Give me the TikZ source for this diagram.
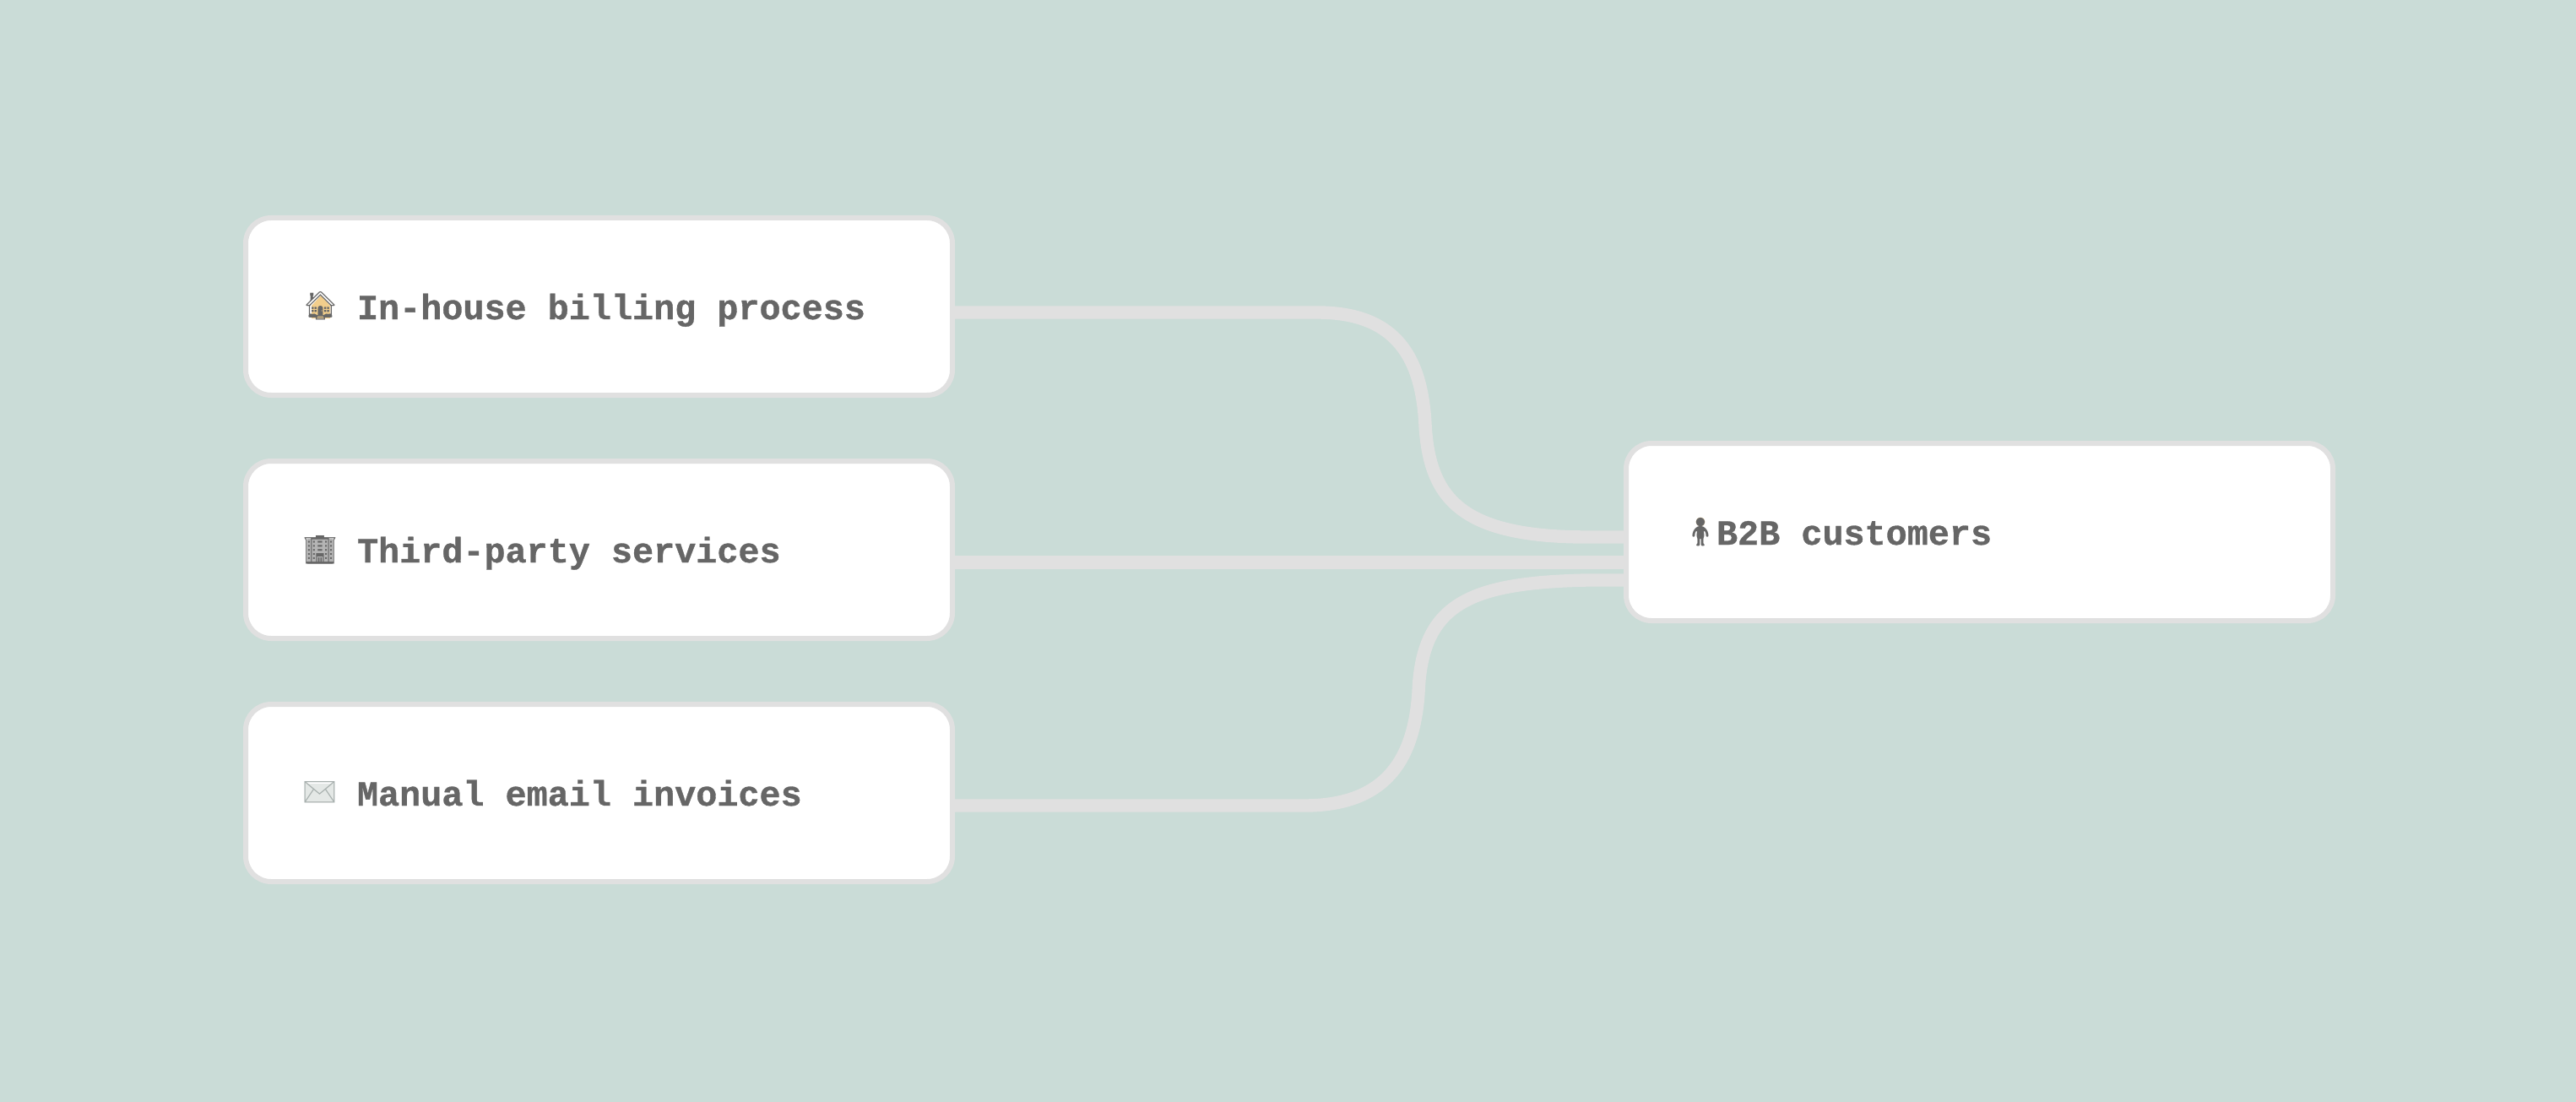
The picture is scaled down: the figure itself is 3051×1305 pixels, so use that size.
\documentclass[tikz,border=0pt]{standalone}
\usepackage{fontspec}
\usetikzlibrary{calc}
\newfontfamily\lblfont{Liberation Mono}[BoldFeatures={FakeBold=0.8}]
\newfontfamily\emofont{Noto Emoji}
\definecolor{bgc}{HTML}{CADCD7}
\definecolor{edgec}{HTML}{E0E0E0}
\definecolor{inkc}{HTML}{666666}
\definecolor{housec}{HTML}{F2CE8C}
\definecolor{officec}{HTML}{B4B4B4}
\definecolor{mailc}{HTML}{E4E8E6}
\definecolor{mailinkc}{HTML}{A8B0AE}
\definecolor{skinc}{HTML}{E8CE9C}
\tikzset{
  cardbox/.style={draw=edgec,fill=white,line width=3pt,rounded corners=15pt,minimum width=418.5pt,minimum height=105pt,inner sep=0pt,outer sep=0pt},
  wire/.style={draw=edgec,line width=7.7pt,line cap=butt},
  lbl/.style={anchor=base west,inner sep=0pt,outer sep=0pt,text=inkc,font=\lblfont\bfseries\fontsize{20.9}{25}\selectfont},
  emo/.style={inner sep=0pt,outer sep=0pt,text=inkc,font=\emofont\fontsize{16.5}{18}\selectfont}
}
\begin{document}
\begin{tikzpicture}[x=0.5pt,y=-0.5pt]
\useasboundingbox[fill=bgc] (0,0) rectangle (3051,1305);
\node[cardbox] (a) at (709.5,363) {};
\node[cardbox] (b) at (709.5,651) {};
\node[cardbox] (c) at (709.5,939) {};
\node[cardbox] (d) at (2344.5,630) {};
\coordinate (am) at (1688,503);
\coordinate (cm) at (1680,820);
\draw[wire] ($(a.east)+(0,7)$) -- (1560,370) .. controls (1655,370) and (1684,425) .. (am) .. controls (1693,590) and (1730,636) .. (1880,636) -- ($(d.west)+(0,6)$);
\draw[wire] ($(b.east)+(0,15)$) -- ($(d.west)+(0,36)$);
\draw[wire] ($(c.east)+(0,15)$) -- (1545,954) .. controls (1645,954) and (1675,895) .. (cm) .. controls (1684,715) and (1740,690) .. (1880,687) -- ($(d.west)+(0,57)$);
\node[lbl] (ta) at (423,378) {In-house billing process};
\node[lbl] (tb) at (423,666) {Third-party services};
\node[lbl] (tc) at (423,954) {Manual email invoices};
\node[lbl] (td) at (2033,645) {B2B customers};
\fill[fill=housec] (369,362) -- (380,350) -- (391,362) -- (391,377) -- (369,377) -- cycle;
\node[emo] (ea) at (379.5,362) {^^^^^^01f3e0};
\fill[fill=officec] (364,638) rectangle (394,668);
\node[emo] (eb) at (379,651) {^^^^^^01f3e2};
\fill[fill=mailc] (362,928) rectangle (395,949);
\node[emo,text=mailinkc] (ec) at (378.5,938.5) {^^^^2709};
\fill[fill=skinc] (2014,618) circle (5.5);
\node[emo] (ed) at (2014,630) {^^^^^^01f9cd};
\end{tikzpicture}
\end{document}
